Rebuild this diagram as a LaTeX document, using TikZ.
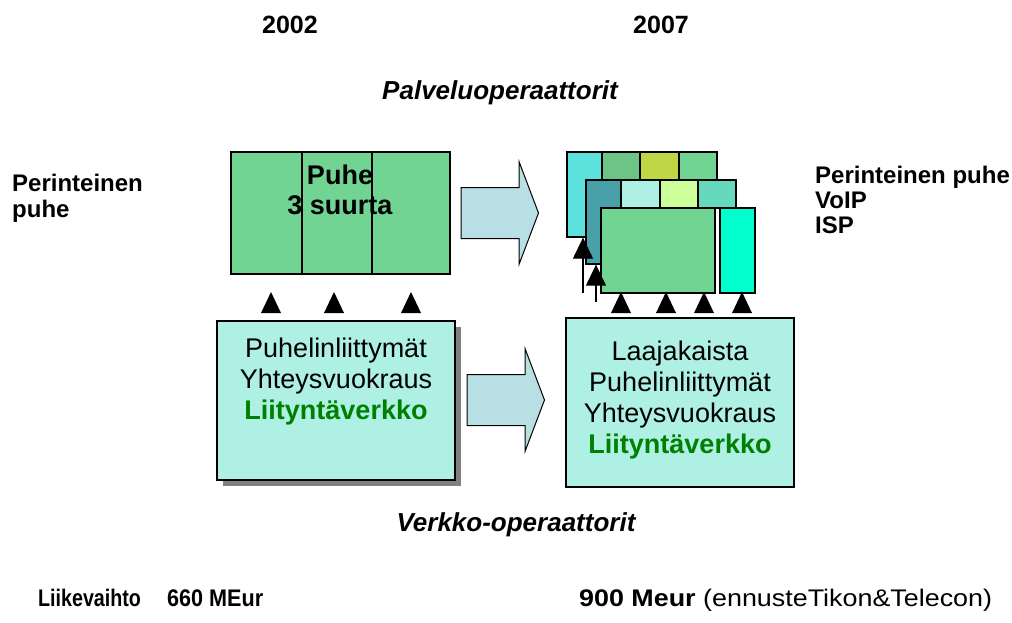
\documentclass[tikz,border=0pt]{standalone}
\usepackage{fontspec}
\setmainfont{Liberation Sans}
\usetikzlibrary{positioning,calc,fit,arrows.meta,shadows}

\definecolor{opgreen}{RGB}{114,212,146}
\definecolor{netcyan}{RGB}{174,240,228}
\definecolor{arrowblue}{RGB}{184,224,228}
\definecolor{textgreen}{RGB}{0,128,0}
\definecolor{opcyan}{RGB}{92,225,220}
\definecolor{opgreenb}{RGB}{108,196,134}
\definecolor{opolive}{RGB}{191,215,68}
\definecolor{opteal}{RGB}{72,160,168}
\definecolor{oplime}{RGB}{204,255,153}
\definecolor{opturq}{RGB}{102,216,188}
\definecolor{opspring}{RGB}{0,255,204}

% block arrow from its west end, pointing right
\newcommand{\blockarrow}[1]{%
  \draw[bigarrow] (#1) ++(0,-25.5) -- ++(58,0) -- ++(0,-26) -- ++(19.5,51.5)
    -- ++(-19.5,51.5) -- ++(0,-26) -- ++(-58,0) -- cycle;}

\begin{document}
\begin{tikzpicture}[x=1pt,y=-1pt,
    opbox/.style={draw=black, line width=1.3pt, inner sep=0pt},
    netbox/.style={draw=black, line width=1.3pt, fill=netcyan, inner sep=0pt},
    bigarrow/.style={draw=black, line width=1pt, fill=arrowblue, line join=miter},
    uparrow/.style={line width=1.3pt, -{Triangle[width=20pt,length=21pt]}},
    lbl/.style={inner sep=0pt, align=left, font=\fontsize{24}{26}\selectfont\bfseries},
    year/.style={inner sep=0pt, font=\fontsize{25}{28}\selectfont\bfseries},
    title/.style={inner sep=0pt, font=\fontsize{26}{30}\selectfont\bfseries\itshape},
    boxtxt/.style={inner sep=0pt, align=center, font=\fontsize{27}{31}\selectfont}]
  \useasboundingbox (0,0) rectangle (1012,622);

  % headings
  \node[year] (y02) at (290,25) {2002};
  \node[year] (y07) at (661,25) {2007};
  \node[title, anchor=base] (serv) at (500,99) {Palveluoperaattorit};
  \node[title, anchor=base] (netw) at (516,531) {Verkko-operaattorit};

  % side labels
  \node[lbl, anchor=north west] (lblL) at (12,174) {Perinteinen\\puhe};
  \node[lbl, anchor=north west, font=\fontsize{24}{25}\selectfont\bfseries] (lblR) at (815,166) {Perinteinen puhe\\VoIP\\ISP};

  % 2002: three operators
  \node[opbox, fill=opgreen, fit={(231,152) (302,274)}] (op1) {};
  \node[opbox, fill=opgreen, fit={(302,152) (372,274)}] (op2) {};
  \node[opbox, fill=opgreen, fit={(372,152) (450,274)}] (op3) {};
  \node[boxtxt, font=\fontsize{27}{30}\selectfont\bfseries] (puhe) at (340,190) {Puhe\\3 suurta};

  % 2007: many operators
  \node[opbox, fill=opcyan, fit={(567,152) (602,237)}] (b1) {};
  \node[opbox, fill=opgreenb, fit={(602,152) (640,180)}] (b2) {};
  \node[opbox, fill=opolive, fit={(640,152) (679,180)}] (b3) {};
  \node[opbox, fill=opgreen, fit={(679,152) (717,180)}] (b4) {};
  \node[opbox, fill=opteal, fit={(586,180) (621,264)}] (m1) {};
  \node[opbox, fill=netcyan, fit={(621,180) (660,208)}] (m2) {};
  \node[opbox, fill=oplime, fit={(660,180) (698,208)}] (m3) {};
  \node[opbox, fill=opturq, fit={(698,180) (736,208)}] (m4) {};
  \node[opbox, fill=opgreen, fit={(601,208) (715,293)}] (f1) {};
  \node[opbox, fill=opspring, fit={(720,208) (755,293)}] (f2) {};

  \coordinate (s1) at (583,293);
  \coordinate (s2) at (596,302);
  \draw[uparrow] (s1) -- (s1 |- b1.south);
  \draw[uparrow] (s2) -- (s2 |- m1.south);

  % block arrows
  \coordinate (ar1) at (461,213);
  \coordinate (ar2) at (467,400);
  \blockarrow{ar1}
  \blockarrow{ar2}

  % access networks
  \node[netbox, drop shadow={shadow xshift=6pt, shadow yshift=-6pt, fill=gray, opacity=1},
    fit={(217,321) (455,480)}] (acc02) {};
  \node[boxtxt, below=17pt of acc02.north] (acc02txt)
    {Puhelinliittymät\\Yhteysvuokraus\\\textcolor{textgreen}{\bfseries Liityntäverkko}};
  \node[netbox, fit={(566,318) (794,487)}] (acc07) {};
  \node[boxtxt, below=23pt of acc07.north] (acc07txt)
    {Laajakaista\\Puhelinliittymät\\Yhteysvuokraus\\\textcolor{textgreen}{\bfseries Liityntäverkko}};

  % small triangles
  \foreach \tx in {271,334,411,621,666,704,742}
    \fill (\tx-10,313) -- (\tx,292) -- (\tx+10,313) -- cycle;

  % turnover
  \node[lbl, anchor=base west] (lv) at (38,606) {\scalebox{0.82}[1]{Liikevaihto}};
  \node[lbl, anchor=base west] (lv02) at (167,606) {\scalebox{0.9}[1]{660 MEur}};
  \node[lbl, anchor=base west] (lv07) at (579,606) {\scalebox{1.12}[1]{900 Meur \mdseries(ennusteTikon\&Telecon)}};
\end{tikzpicture}
\end{document}
